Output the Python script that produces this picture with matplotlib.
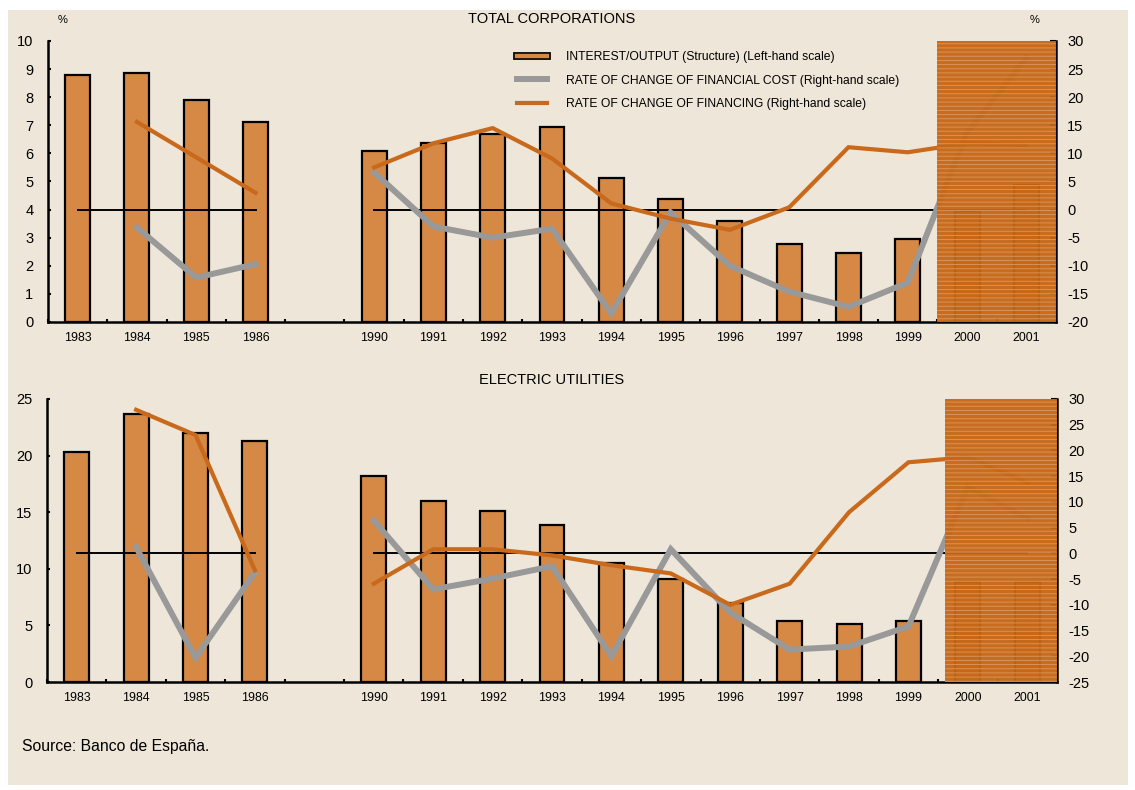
import numpy as np
import matplotlib
matplotlib.use("Agg")
import matplotlib.pyplot as plt
from matplotlib.lines import Line2D
from matplotlib.patches import Rectangle
import matplotlib.patheffects as pe

plt.rcParams['font.family'] = ['Liberation Sans', 'DejaVu Sans']
plt.rcParams['hatch.linewidth'] = 0.6
plt.rcParams['axes.unicode_minus'] = False

# ---- data ----
years = ['1983', '1984', '1985', '1986', '', '1990', '1991', '1992', '1993', '1994',
         '1995', '1996', '1997', '1998', '1999', '2000', '2001']
nan = np.nan

# TOTAL CORPORATIONS
tc_interest = [8.78, 8.86, 7.89, 7.1, nan, 6.07, 6.36, 6.68, 6.93, 5.12,
               4.37, 3.6, 2.76, 2.47, 2.94, 3.96, 4.86]
tc_fin_cost = [nan, -3.2, -12.1, -9.7, nan, 6.6, -3.0, -5.0, -3.4, -18.5,
               -0.5, -10.0, -14.6, -17.3, -13.0, 13.7, 27.0]
tc_financing = [nan, 15.6, 9.3, 3.0, nan, 7.5, 11.8, 14.5, 9.1, 1.1,
                -1.6, -3.6, 0.4, 11.1, 10.2, 11.8, 11.5]

# ELECTRIC UTILITIES
eu_interest = [20.3, 23.7, 22.0, 21.3, nan, 18.2, 16.0, 15.1, 13.9, 10.5,
               9.1, 7.0, 5.4, 5.1, 5.4, 8.8, 8.8]
eu_fin_cost = [nan, 1.2, -20.3, -3.7, nan, 6.4, -7.0, -4.9, -2.5, -20.0,
               0.8, -11.5, -18.7, -18.1, -14.2, 12.9, 6.8]
eu_financing = [nan, 27.9, 23.0, -3.3, nan, -5.9, 0.8, 0.8, -0.4, -2.3,
                -3.9, -10.0, -5.9, 8.0, 17.7, 18.7, 13.8]

titles = ['TOTAL CORPORATIONS', 'ELECTRIC UTILITIES']
legend_labels = ['INTEREST/OUTPUT (Structure) (Left-hand scale)',
                 'RATE OF CHANGE OF FINANCIAL COST (Right-hand scale)',
                 'RATE OF CHANGE OF FINANCING (Right-hand scale)']

# ---- style ----
BG = '#EEE6D8'
BAR = '#D68845'
ORANGE = '#C8691C'
GRAY = '#999999'
SHADE = '#C66716'

fig = plt.figure(figsize=(11.35, 7.9), dpi=100, facecolor='white')
fig.patches.append(Rectangle((8 / 1135, 1 - 785 / 790), 1120 / 1135, 775 / 790,
                             transform=fig.transFigure, facecolor=BG,
                             edgecolor='none', zorder=-10))

x = np.arange(len(years))
segments = [(0, 4), (5, 17)]


def panel(rect, interest, cost, financing, lylim, lticks, rylim, rticks,
          title, title_y, shade_x0, legend=False):
    ax = fig.add_axes(rect)
    ax.set_facecolor('none')
    ax.bar(x, interest, width=0.42, color=BAR, edgecolor='black', linewidth=1.6, zorder=2)
    ax.set_xlim(-0.5, len(years) - 0.5)
    ax.set_ylim(*lylim)
    ax.set_yticks(lticks)
    ax.set_xticks(x)
    ax.set_xticklabels(years, fontsize=8.9)
    ax.set_xticks(np.arange(-0.5, len(years), 1.0), minor=True)
    ax.tick_params(axis='x', which='major', length=0, pad=7)
    ax.tick_params(axis='x', which='minor', direction='in', length=2.5, width=1.5)
    ax.tick_params(axis='y', direction='in', length=2.5, width=1.5, labelsize=10.5, pad=10.5)
    for s in ['top', 'right']:
        ax.spines[s].set_visible(False)
    for s in ['left', 'bottom']:
        ax.spines[s].set_linewidth(1.8)

    ax2 = ax.twinx()
    ax2.set_facecolor('none')
    ax2.set_ylim(*rylim)
    ax2.set_yticks(rticks)
    ax2.tick_params(axis='y', direction='in', length=4, width=1.5, labelsize=10.5, pad=8)
    for s in ['top', 'left', 'bottom']:
        ax2.spines[s].set_visible(False)
    ax2.spines['right'].set_linewidth(1.8)

    for a, b in segments:
        ax2.plot([x[a], x[b - 1]], [0, 0], color='black', lw=1.4, zorder=1)
        ax2.plot(x[a:b], cost[a:b], color=GRAY, lw=4.3, solid_joinstyle='miter', zorder=2)
        ax2.plot(x[a:b], financing[a:b], color=ORANGE, lw=3.0, solid_joinstyle='miter', zorder=3)

    ax2.add_patch(Rectangle((shade_x0, rylim[0]), 16.5 - shade_x0, rylim[1] - rylim[0],
                            facecolor=SHADE, alpha=0.95, edgecolor='#DE9A62',
                            hatch='----', linewidth=0, zorder=10))
    fig.text(552 / 1135, title_y, title, ha='center', va='center', fontsize=10.5)

    if legend:
        h1 = Line2D([], [], color=BAR, lw=3.2,
                    path_effects=[pe.Stroke(linewidth=5.6, foreground='black'), pe.Normal()])
        h2 = Line2D([], [], color=GRAY, lw=4.3)
        h3 = Line2D([], [], color=ORANGE, lw=3.0)
        ax2.legend([h1, h2, h3], legend_labels, loc='upper left',
                   bbox_to_anchor=(0.454, 1.002), frameon=False, fontsize=8.7,
                   handlelength=2.5, handletextpad=1.6, labelspacing=0.93)
    return ax, ax2


top_rect = [48 / 1135, 1 - 322 / 790, 1008 / 1135, 281 / 790]
bot_rect = [47 / 1135, 1 - 682 / 790, 1010 / 1135, 283 / 790]

panel(top_rect, tc_interest, tc_fin_cost, tc_financing,
      (0, 10), range(0, 11), (-20, 30), range(-20, 31, 5),
      titles[0], 1 - 19 / 790, 14.5, legend=True)
panel(bot_rect, eu_interest, eu_fin_cost, eu_financing,
      (0, 25), range(0, 26, 5), (-25, 30), range(-25, 31, 5),
      titles[1], 1 - 380 / 790, 14.62)

fig.text(63 / 1135, 1 - 20 / 790, '%', ha='center', va='center', fontsize=8)
fig.text(1035 / 1135, 1 - 20 / 790, '%', ha='center', va='center', fontsize=8)
fig.text(22 / 1135, 1 - 746 / 790, 'Source: Banco de España.', ha='left', va='center', fontsize=11.3)

fig.savefig('out.png', dpi=100, facecolor='white')
